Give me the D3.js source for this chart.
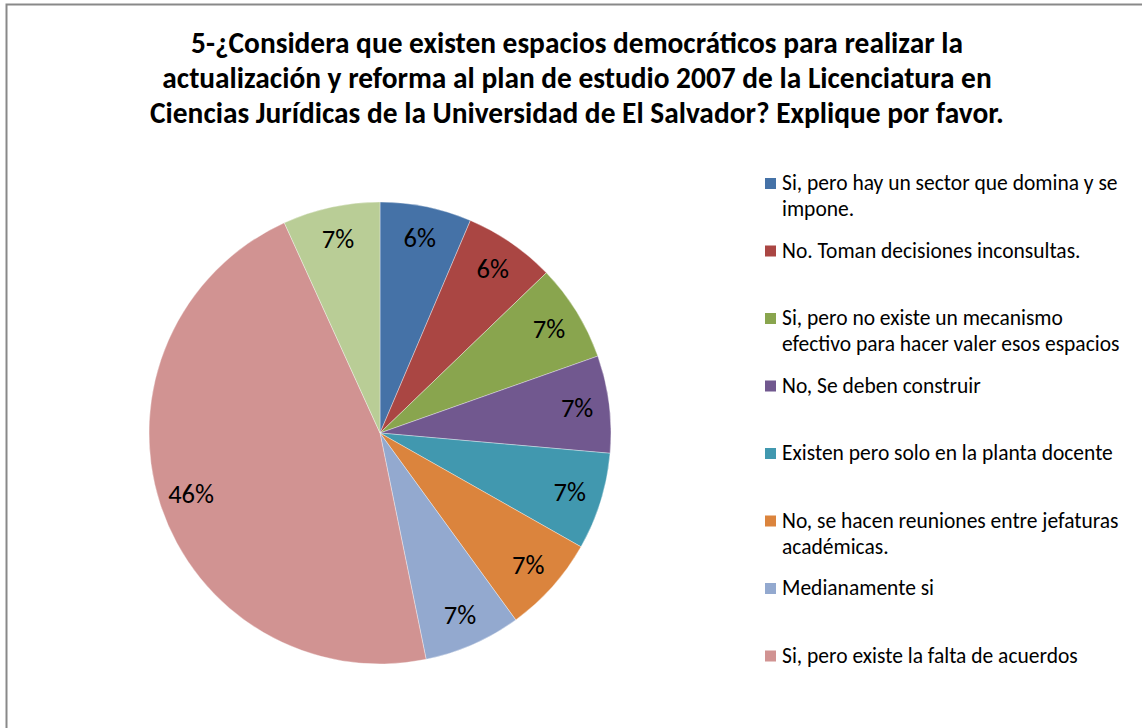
<!DOCTYPE html>
<html>
<head>
<meta charset="utf-8">
<script src="https://cdn.jsdelivr.net/npm/d3@7"></script>
<style>
  html, body { margin: 0; padding: 0; background: #fff; }
  svg { display: block; }
  text { font-family: Carlito, Lato, "Open Sans", sans-serif; fill: #000; }
</style>
</head>
<body>
<svg id="chart" width="1142" height="728"></svg>
<script>
// ---- data ----
const titleLines = [
  "5-¿Considera que existen espacios democráticos para realizar la",
  "actualización y reforma al plan de estudio 2007 de la Licenciatura en",
  "Ciencias Jurídicas de la Universidad de El Salvador? Explique por favor."
];
const categories = [
  "Si, pero hay un sector que domina y se impone.",
  "No. Toman decisiones inconsultas.",
  "Si, pero no existe un mecanismo efectivo para hacer valer esos espacios",
  "No, Se deben construir",
  "Existen pero solo en la planta docente",
  "No, se hacen reuniones entre jefaturas académicas.",
  "Medianamente si",
  "Si, pero existe la falta de acuerdos",
  "(sin etiqueta)"
];
const legendLines = [
  ["Si, pero hay un sector que domina y se", "impone."],
  ["No. Toman decisiones inconsultas."],
  ["Si, pero no existe un mecanismo", "efectivo para hacer valer esos espacios"],
  ["No, Se deben construir"],
  ["Existen pero solo en la planta docente"],
  ["No, se hacen reuniones entre jefaturas", "académicas."],
  ["Medianamente si"],
  ["Si, pero existe la falta de acuerdos"]
];
const values = [6.4, 6.4, 6.8, 6.8, 6.8, 6.8, 6.8, 46.4, 6.8];
const colors = ["#4572A7", "#AA4643", "#89A54E", "#71588F", "#4198AF", "#DB843D", "#93A9CF", "#D19392", "#B9CD96"];

// ---- drawing ----
const svg = d3.select("#chart");

svg.append("rect")
  .attr("x", 6.5).attr("y", 4.5)
  .attr("width", 1200).attr("height", 800)
  .attr("fill", "none").attr("stroke", "#898989").attr("stroke-width", 2);

svg.append("g").selectAll("text").data(titleLines).join("text")
  .attr("x", 577)
  .attr("y", (d, i) => 53 + i * 35)
  .attr("text-anchor", "middle")
  .attr("font-size", 29.4)
  .attr("font-weight", "bold")
  .text(d => d);

const cx = 380, cy = 433, r = 231;
const total = d3.sum(values);
const pie = d3.pie().sort(null).value(d => d)(values);
const arc = d3.arc().innerRadius(0).outerRadius(r);
const labelArc = d3.arc().innerRadius(r * 0.86).outerRadius(r * 0.86);

const g = svg.append("g").attr("transform", `translate(${cx},${cy})`);
g.selectAll("path").data(pie).join("path")
  .attr("d", arc)
  .attr("fill", (d, i) => colors[i])
  .attr("stroke", "rgba(255,255,255,0.45)")
  .attr("stroke-width", 0.8);

g.selectAll("text").data(pie).join("text")
  .attr("transform", d => `translate(${labelArc.centroid(d)})`)
  .attr("text-anchor", "middle")
  .attr("dominant-baseline", "central")
  .attr("font-size", 26.5)
  .text(d => Math.round(d.data / total * 100) + "%");

const legend = svg.append("g");
const lg = legend.selectAll("g").data(legendLines).join("g")
  .attr("transform", (d, i) => `translate(765, ${190 + i * 67.5})`);
lg.append("rect")
  .attr("x", 0).attr("y", -12).attr("width", 11).attr("height", 11)
  .attr("fill", (d, i) => colors[i]);
lg.each(function(lines) {
  d3.select(this).selectAll("text").data(lines).join("text")
    .attr("x", 17)
    .attr("y", (d, j) => j * 26)
    .attr("font-size", 21.5)
    .text(d => d);
});
</script>
</body>
</html>
